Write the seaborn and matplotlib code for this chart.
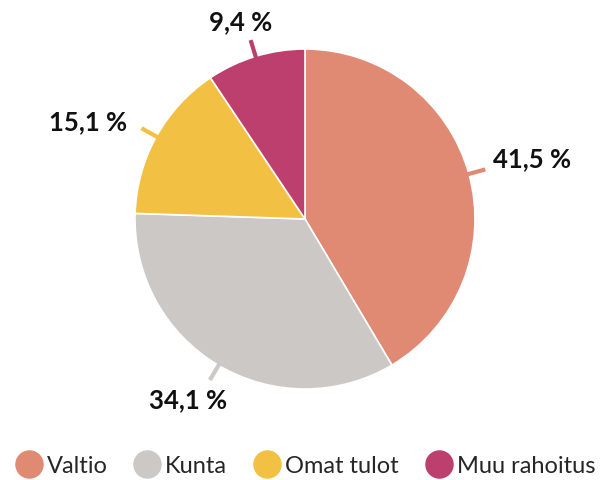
import numpy as np
import matplotlib
matplotlib.use("Agg")
import matplotlib.pyplot as plt
from matplotlib.lines import Line2D
import seaborn as sns

# Data
sources = ['Valtio', 'Kunta', 'Omat tulot', 'Muu rahoitus']
shares = [41.5, 34.1, 15.1, 9.4]
labels = ['41,5 %', '34,1 %', '15,1 %', '9,4 %']
colors = ['#E08A74', '#CCC8C5', '#F2C144', '#BC3F6E']

sns.set_theme(style='white')
plt.rcParams['font.family'] = ['Lato', 'DejaVu Sans']

fig = plt.figure(figsize=(6, 4.81), dpi=100)
# axis spans the whole figure; 1 data unit = 170 px, pie centre at (305, 220) px
R = 170.0
ax = fig.add_axes([0, 0, 1, 1])
wedges, _ = ax.pie(shares, colors=colors, startangle=90, counterclock=False,
                   radius=1, wedgeprops=dict(edgecolor='white', linewidth=1.2))
ax.set_xlim(-305 / R, (600 - 305) / R)
ax.set_ylim(-(481 - 220) / R, 220 / R)
ax.set_aspect('auto')
ax.axis('off')

# label offsets from the leader end, in px (x right, y down), and alignment
offsets = [(8, -11, 'left'), (-22, 19, 'center'), (-14, -7, 'right'), (-10, -19, 'center')]

for w, lab, c, (dx, dy, ha) in zip(wedges, labels, colors, offsets):
    ang = np.deg2rad((w.theta1 + w.theta2) / 2)
    x0, y0 = np.cos(ang), np.sin(ang)
    ax.plot([x0 * 0.99, x0 * 1.1], [y0 * 0.99, y0 * 1.1], color=c, lw=3,
            solid_capstyle='butt')
    ax.text(x0 * 1.1 + dx / R, y0 * 1.1 - dy / R, lab, ha=ha, va='center',
            fontsize=18.5, fontweight='bold', color='#111111')

handles = [Line2D([0], [0], marker='o', linestyle='', markersize=19.5,
                  markerfacecolor=c, markeredgecolor=c) for c in colors]
fig.legend(handles, sources, loc='center', bbox_to_anchor=(0.508, 1 - 467 / 481),
           ncol=4, frameon=False, fontsize=17, handletextpad=0.15,
           columnspacing=1.1, handlelength=1.2)

fig.savefig('out.png', dpi=100)
